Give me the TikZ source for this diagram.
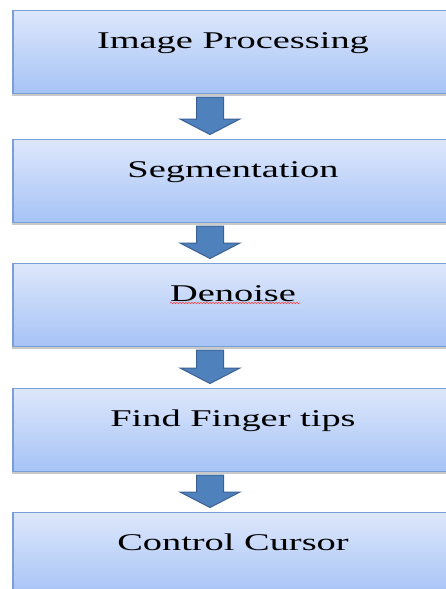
\documentclass[tikz,border=0pt]{standalone}
\usepackage{fontspec}
\newfontfamily\stagefont[FakeStretch=1.6]{Liberation Serif}
\usetikzlibrary{calc}
\usetikzlibrary{shadows}
\usetikzlibrary{decorations.pathmorphing}
\definecolor{stagetop}{HTML}{DDE7FB}
\definecolor{stagebot}{HTML}{A6C3F6}
\definecolor{stageline}{HTML}{7A9FD6}
\definecolor{arrowfill}{HTML}{4F81BD}
\definecolor{arrowline}{HTML}{3A6192}
\tikzset{
  stage/.style={draw=stageline, line width=1.2pt, top color=stagetop, bottom color=stagebot,
    minimum width=440pt, inner sep=0pt, text height=38pt, text depth=45pt, anchor=north,
    font=\stagefont\fontsize{24}{28}\selectfont,
    drop shadow={shadow xshift=-1.5pt, shadow yshift=-2.5pt, opacity=.3, fill=black!70}},
  flowarrow/.style={draw=arrowline, fill=arrowfill, line width=1pt, line join=miter}
}

\begin{document}
\begin{tikzpicture}[x=1pt,y=-1pt]
\def\ax{210pt}
\def\sw{13.5pt}
\def\hw{30pt}
% block arrow from the bottom of one stage to the top of the next
\def\blk#1#2{\draw[flowarrow] let \p1=(#1.south), \p2=(#2.north) in
  (\ax-\sw,\y1-3pt) -- (\ax+\sw,\y1-3pt) -- (\ax+\sw,\y2+20pt) -- (\ax+\hw,\y2+20pt)
  -- (\ax,\y2+4.5pt) -- (\ax-\hw,\y2+20pt) -- (\ax-\sw,\y2+20pt) -- cycle;}
\useasboundingbox (0,0) rectangle (446,589);
\clip (0,0) rectangle (446,589);
\node [stage, name=s1] at (233,10)  {Image Processing};
\node [stage, name=s2] at (233,139) {Segmentation};
\node [stage, name=s3] at (233,263) {Denoise};
\node [stage, name=s4] at (233,388) {Find Finger tips};
\node [stage, name=s5] at (233,512) {Control Cursor};
\blk{s1}{s2}
\blk{s2}{s3}
\blk{s3}{s4}
\blk{s4}{s5}
%spell check underline
\draw [red!75, line width=.6pt, decorate, decoration={snake, segment length=3pt, amplitude=.7pt}]
  ($(s3.north)+(-63,40)$) -- ($(s3.north)+(67,40)$);
\end{tikzpicture}
\end{document}
